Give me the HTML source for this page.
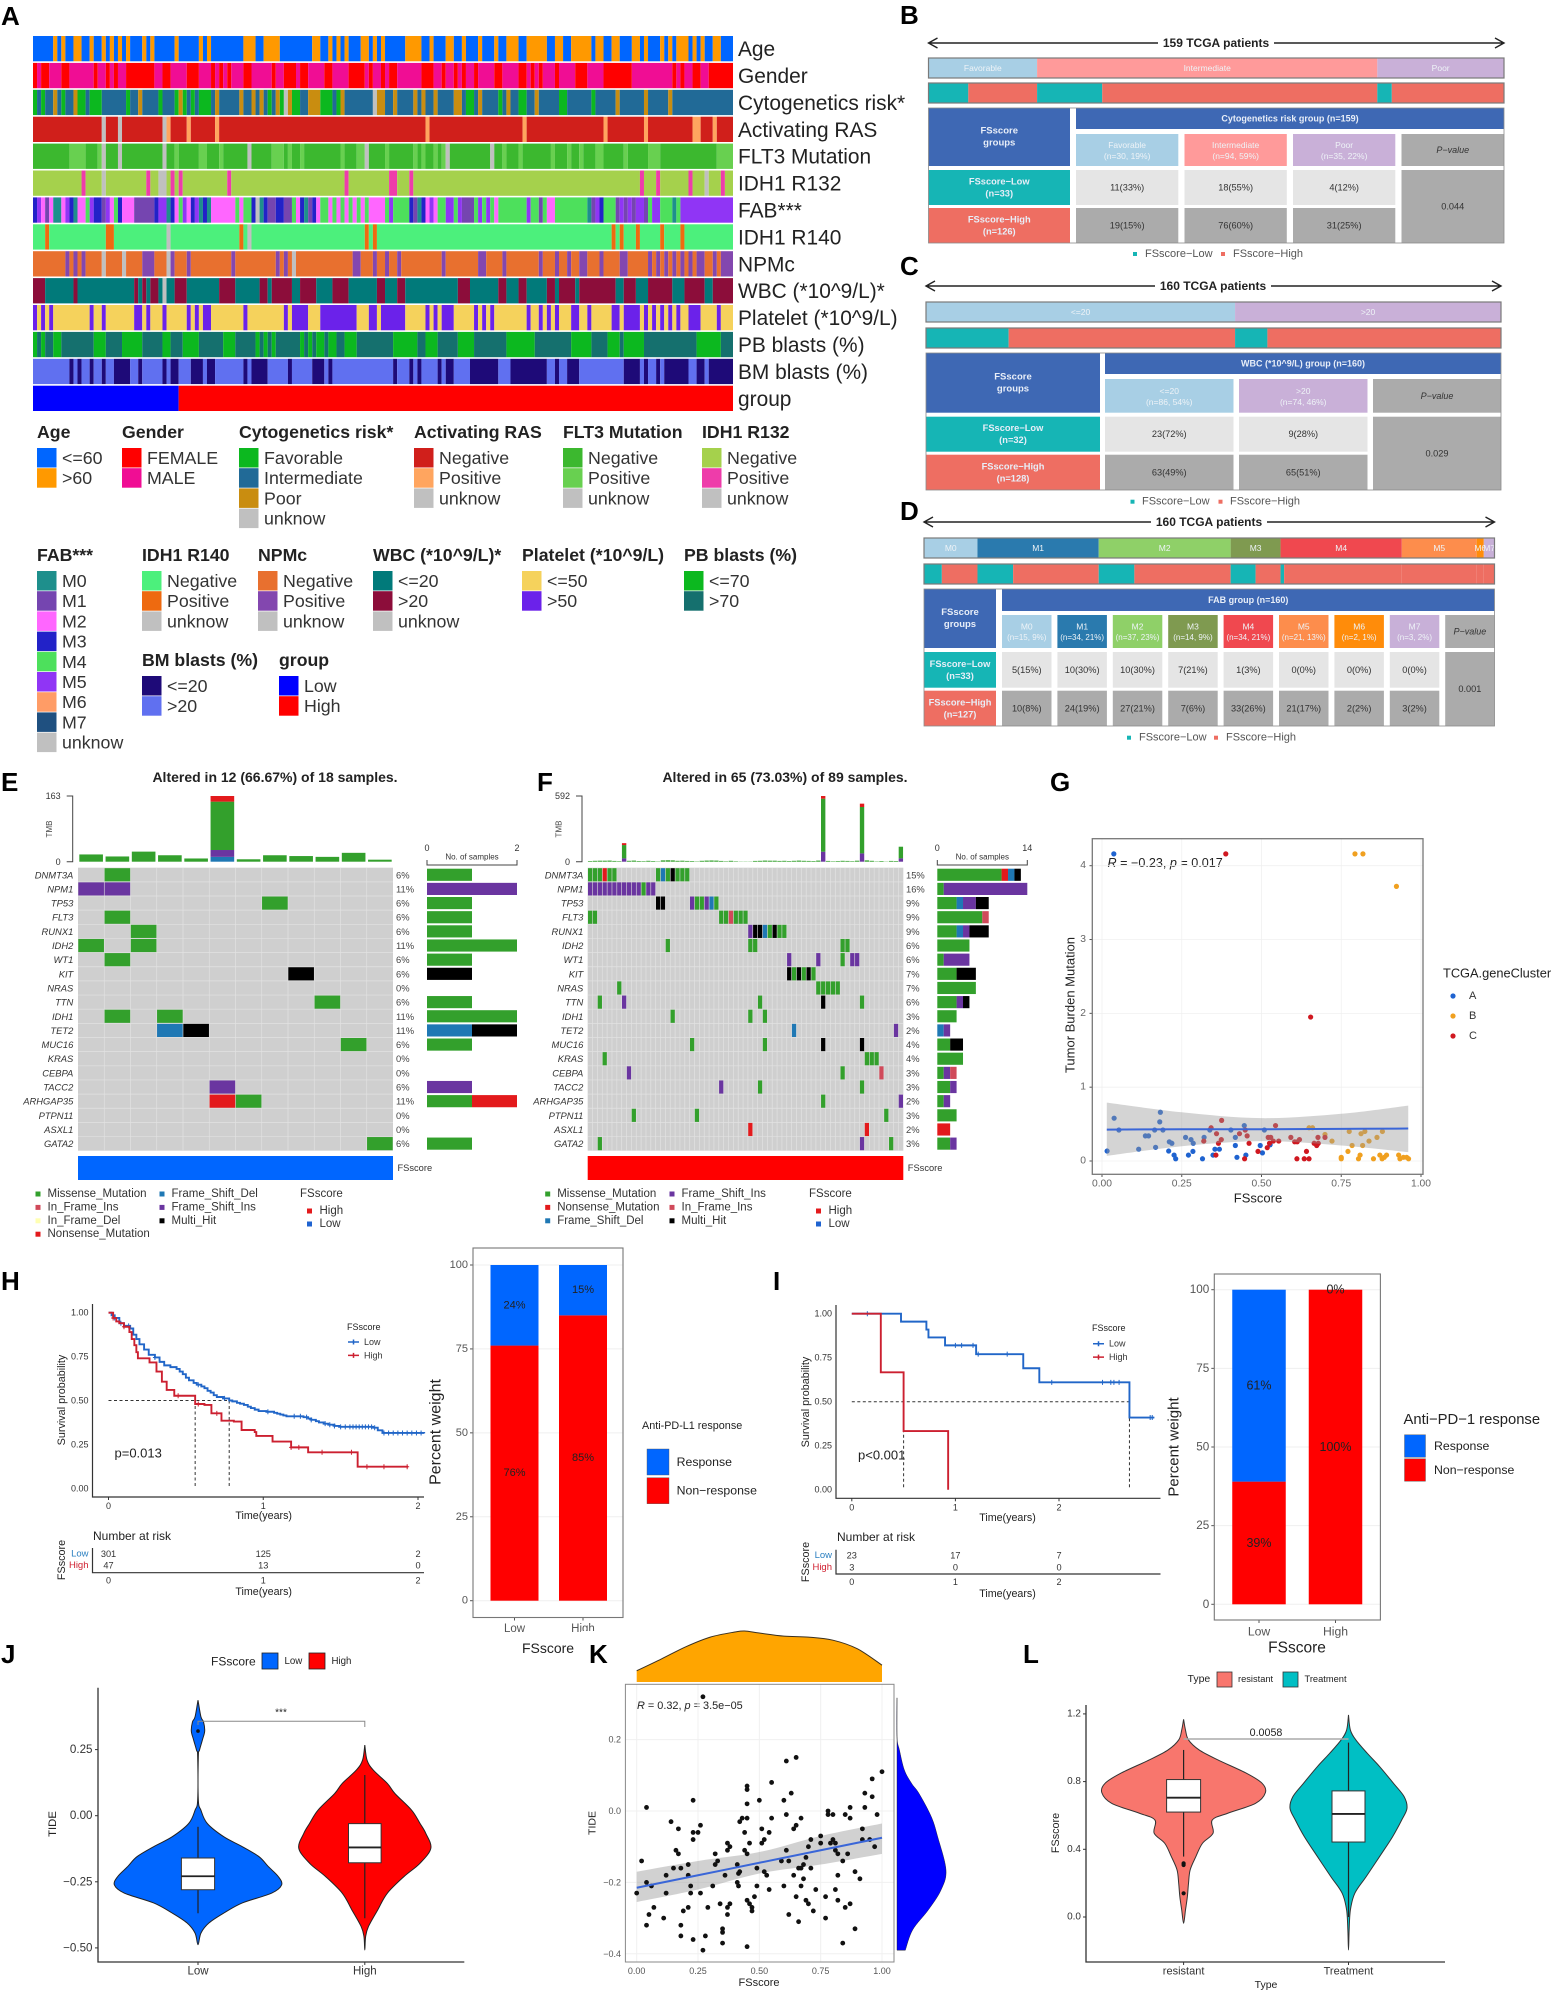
<!DOCTYPE html>
<html lang="en">
<head>
<meta charset="utf-8">
<title>FSscore multi-panel figure</title>
<style>
html,body{margin:0;padding:0;background:#fff}
svg{display:block;font-family:"Liberation Sans",sans-serif;fill:#222}
text{dominant-baseline:central}
.pl{dominant-baseline:alphabetic;font-weight:bold;font-size:26px;fill:#000}
.r{text-anchor:end}
.m{text-anchor:middle}
</style>
</head>
<body>
<svg id="figure" width="1557" height="1996" viewBox="0 0 1557 1996" xmlns="http://www.w3.org/2000/svg">
<rect width="1557" height="1996" fill="#fff"/>

<g>
<text class="pl" x="1" y="25">A</text>
<text class="pl" x="900" y="24">B</text>
<text class="pl" x="900" y="275">C</text>
<text class="pl" x="900" y="520">D</text>
<text class="pl" x="1" y="791">E</text>
<text class="pl" x="537" y="791">F</text>
<text class="pl" x="1050" y="791">G</text>
<text class="pl" x="1" y="1290">H</text>
<text class="pl" x="773" y="1290">I</text>
<text class="pl" x="1" y="1663">J</text>
<text class="pl" x="589" y="1663">K</text>
<text class="pl" x="1023" y="1663">L</text>
</g>

<g id="panel-a"></g>
<g id="panel-b"></g>
<g id="panel-c"></g>
<g id="panel-d"></g>

<g id="panel-e">
<text class="m" x="275" y="777" font-size="14" font-weight="bold">Altered in 12 (66.67%) of 18 samples.</text>
</g>
<g id="panel-f">
<text class="m" x="785" y="777" font-size="14" font-weight="bold">Altered in 65 (73.03%) of 89 samples.</text>
</g>

<g id="panel-g">
<text class="m" x="1258" y="1198" font-size="13" fill="#222">FSscore</text>
<text class="m" transform="translate(1070 1005) rotate(-90)" font-size="13">Tumor Burden Mutation</text>
<text x="1443" y="973" font-size="12.8">TCGA.geneCluster</text>
<text x="1107.5" y="863" font-size="12.6"><tspan font-style="italic">R</tspan> = −0.23, <tspan font-style="italic">p</tspan> = 0.017</text>
</g>

<g id="panel-h-km">
<text class="m" transform="translate(62 1400) rotate(-90)" font-size="10.8">Survival probability</text>
<text class="m" x="263.7" y="1516" font-size="10.7">Time(years)</text>
<text x="347" y="1327" font-size="9">FSscore</text>
<text x="114.5" y="1453" font-size="13">p=0.013</text>
<text x="93" y="1536" font-size="12">Number at risk</text>
<text class="m" transform="translate(62 1560) rotate(-90)" font-size="10.8">FSscore</text>
<text class="m" x="263.7" y="1592" font-size="10.7">Time(years)</text>
</g>
<g id="panel-h-bar">
<text class="m" transform="translate(436 1432) rotate(-90)" font-size="16">Percent weight</text>
<text class="m" x="548" y="1648" font-size="14">FSscore</text>
<text x="642" y="1426" font-size="10.8">Anti-PD-L1 response</text>
</g>
<rect x="581" y="1631" width="18" height="9" fill="#fff"/>

<g id="panel-i-km">
<text class="m" transform="translate(806 1402) rotate(-90)" font-size="10.8">Survival probability</text>
<text class="m" x="1007.5" y="1518" font-size="10.7">Time(years)</text>
<text x="1092" y="1328" font-size="9">FSscore</text>
<text x="858" y="1455" font-size="13">p&lt;0.001</text>
<text x="837" y="1537" font-size="12">Number at risk</text>
<text class="m" transform="translate(806 1562) rotate(-90)" font-size="10.8">FSscore</text>
<text class="m" x="1007.5" y="1594" font-size="10.7">Time(years)</text>
</g>
<g id="panel-i-bar">
<text class="m" transform="translate(1174 1447) rotate(-90)" font-size="15">Percent weight</text>
<text class="m" x="1297" y="1648" font-size="15.5">FSscore</text>
<text x="1403.5" y="1420" font-size="14.8">Anti−PD−1 response</text>
</g>

<g id="panel-j">
<text class="m" transform="translate(53 1824) rotate(-90)" font-size="11.3">TIDE</text>
<text x="211" y="1661.7" font-size="12">FSscore</text>
<rect x="262" y="1653" width="16" height="16" fill="#0066ff" stroke="#222" stroke-width=".8"/>
<text x="284.5" y="1661.7" font-size="9.7">Low</text>
<rect x="309" y="1653" width="16" height="16" fill="#ff0000" stroke="#222" stroke-width=".8"/>
<text x="331.5" y="1661.7" font-size="9.7">High</text>
<text class="m" x="281" y="1713" font-size="10">***</text>
</g>

<g id="panel-k">
<text class="m" transform="translate(592.7 1823) rotate(-90)" font-size="10.5">TIDE</text>
<text class="m" x="759" y="1983" font-size="11">FSscore</text>
<text x="637" y="1706" font-size="10.9"><tspan font-style="italic">R</tspan> = 0.32, <tspan font-style="italic">p</tspan> = 3.5e−05</text>
</g>

<g id="panel-l">
<text x="1187.5" y="1679" font-size="10.5">Type</text>
<rect x="1217" y="1672" width="15" height="15" fill="#f8766d" stroke="#333" stroke-width=".8"/>
<text x="1238" y="1679" font-size="9.3">resistant</text>
<rect x="1283" y="1672" width="15" height="15" fill="#00bfc4" stroke="#333" stroke-width=".8"/>
<text x="1304.5" y="1679" font-size="9.3">Treatment</text>
<text class="m" transform="translate(1056 1833) rotate(-90)" font-size="10.8">FSscore</text>
<text class="m" x="1266" y="1985" font-size="10.5">Type</text>
<text class="m" x="1266" y="1733" font-size="10.7">0.0058</text>
</g>
</svg>

<script>
/* ---------- Panel A data: sample indexes for each heatmap category ---------- */
const SAMPLES = 173;
const ageOver60 = [5,7,10,11,14,17,19,21,23,27,29,35,41,43,52,53,54,57,58,59,60,69,70,73,75,77,81,82,84,86,92,93,94,95,98,102,103,106,110,114,117,118,119,122,123,124,125,126,129,130,133,134,135,136,137,139,140,143,144,148,149,151,155,157,159,160,161,163,165,168,169];
const genderFemale = [0,2,3,7,8,15,18,20,23,24,25,26,27,28,29,32,33,38,39,40,44,46,48,52,53,59,62,63,64,66,67,72,73,78,79,80,81,83,86,88,89,96,97,98,101,104,106,109,114,115,120,121,123,125,129,134,135,136,141,142,143,144,145,146,147,158,160,163,164,167,168,169,170,171,172];
const cytoFavorable = [0,2,7,11,12,14,15,16,23,31,35,37,39,41,42,43,58,61,64,65,71,72,73,75,107,108,115,120,121,130,131,138];
const cytoPoor = [5,10,26,36,45,51,54,56,60,63,68,69,70,76,85,86,89,94,96,99,104,105,110,117,124,144,151,157];
const cytoUnknown = [62,84];
const rasPositive = [33,38,45,97,121,141,151,163,164,168];
const rasUnknown = [17,21,32];
const flt3Positive = [9,10,11,12,16,35,41,42,46,59,60,61,63,66,76,80,81,87,94,96,99,101,116,120,128,132,135,139,140,146,152,153,154,169,170,171,172];
const flt3Unknown = [17,21,32,53,82,102,113];
const r132Positive = [12,28,34,36,48,77,88,89,93,150,154,162,170];
const r132Unknown = [17,31,32,166];
const fabCodes = "35212"+"00"+"25"+"30"+"22"+"45"+"3315"+"24"+"3"+"222"+"11111"+"3"+"55"+"032"+"4523"+"50"+"3022"+"2222424"+"43u"+"0311331"+"142"+"30132"+"44"+"2424242"+"424"+"2222"+"45"+"4444"+"31032"+"5244"+"5545"+"1114"+"545"+"424"+"444444"+"5"+"44"+"1"+"42"+"2"+"444444"+"44"+"01"+"53"+"444"+"1515155"+"1"+"4"+"55"+"444"+"0"+"4"+"5555555";
const r140Positive = [3,18,19,51,82,84,143,145,149,155,160];
const r140Unknown = [33,53];
const npmPositive = [8,10,12,27,28,29,34,38,49,60,62,79,80,84,87,90,101,110,111,116,125,129,132,135,136,140,145,146,152,154,156,158,160,162,164,165,168,170,171,172];
const npmUnknown = [17,22,33,64];
const wbcHigh = [0,1,2,10,25,27,29,30,35,36,37,46,47,48,49,56,57,59,60,61,62,63,66,67,68,69,74,75,76,77,85,86,90,91,105,106,107,115,116,120,121,127,128,130,131,132,133,135,136,137,138,139,140,141,142,143,146,147,148,152,153,154,155,156,157,161,162,163,164,165,168,169,170,171,172];
const wbcUnknown = [32];
const plateletHigh = [0,2,4,14,17,25,26,28,32,38,40,42,43,52,62,64,65,66,67,71,72,73,74,75,76,77,78,79,83,84,86,87,88,89,90,91,97,99,101,102,103,109,111,113,122,125,127,129,133,134,137,143,144,146,147,148,149,151,153,155,157,159,162,163,164,169];
const pbLow = [0,2,5,6,15,16,17,22,23,24,25,26,32,33,37,38,39,40,47,48,49,55,57,59,66,68,70,71,73,74,77,78,79,89,90,91,92,93,94,97,98,99,105,106,107,108,117,118,119,120,121,122,123,133,134,135,136,137,142,143,144,146,147,148,149,150,164,165,166,167,168,169];
const bmLow = [9,11,14,17,20,21,22,23,26,32,34,35,39,40,41,43,44,52,54,55,56,57,63,69,70,71,73,89,93,95,100,102,103,108,109,110,111,112,113,114,118,119,120,121,122,123,124,125,126,129,132,133,134,146,147,148,149,151,154,156,157,158,159,160,161,164,165,167,168,169,170,171,172];
const groupLowCount = 36;

/* ---------- Panels B, C, D data ---------- */
const bCategories = ['Favorable','Intermediate','Poor'];
const bLow = [11,18,4];
const bHigh = [19,76,31];
const bLowPct = [33,55,12];
const bHighPct = [15,60,25];
const bSharePct = [19,59,22];
const cCategories = ['<=20','>20'];
const cLow = [23,9];
const cHigh = [63,65];
const cLowPct = [72,28];
const cHighPct = [49,51];
const cSharePct = [54,46];
const dCategories = ['M0','M1','M2','M3','M4','M5','M6','M7'];
const dLow = [5,10,10,7,1,0,0,0];
const dHigh = [10,24,27,7,33,21,2,3];
const dLowPct = [15,30,30,21,3,0,0,0];
const dHighPct = [8,19,21,6,26,17,2,2];
const dSharePct = [9,21,23,9,21,13,1,2];

/* ---------- Panels E, F data ---------- */
const geneNames = ['DNMT3A','NPM1','TP53','FLT3','RUNX1','IDH2','WT1','KIT','NRAS','TTN','IDH1','TET2','MUC16','KRAS','CEBPA','TACC2','ARHGAP35','PTPN11','ASXL1','GATA2'];
const ePercent = [6,11,6,6,6,11,6,6,0,6,11,11,6,0,0,6,11,0,0,6];
const eMutations = ['1M','0F 1F','7M','1M','2M','0M 2M','1M','8H','','9M','1M 3M','3D 4H','10M','','','5F','5N 6M','','','11M'];
const eTmbDel = [0,0,0,0,0,12,0,0,0,0,0,0];
const eTmbIns = [0,0,0,0,0,17,0,0,0,0,0,0];
const eTmbMissense = [18,13,25,16,8,120,6,16,14,12,22,5];
const eTmbNonsense = [0,0,0,0,0,14,0,0,0,0,0,0];
const fPercent = [15,16,9,9,9,6,6,7,7,6,3,2,4,4,3,3,2,3,2,3];
const fMutations = [
'0M 1M 2M 3N 4M 5M 14M 15D 16M 17H 18M 19M 20M',
'0F 1F 2F 3F 4F 5F 6F 7F 8F 9F 10F 11M 12F 13F',
'14H 15H 21F 22M 23M 24F 25D 26M',
'0M 1M 27M 28M 29I 30M 31M 32M',
'33F 34H 35H 36D 37M 38H 39M 40M',
'16M 33M 34M 52M 53M',
'41F 47F 52M 54F 55F',
'41H 42M 43H 44M 45H 46M',
'6M 47M 48M 49M 50M 51M',
'2M 7F 35M 48H 56M',
'17M 33M 36M',
'42D 63F',
'21M 36M 48H 56H',
'3M 57M 58M 59M',
'8F 52M 60I',
'27F 35M 56M',
'48M 64F',
'9M 22M 61M',
'33N 57N',
'2M 56F 62M'];
const fTmbIns = [0,0,0,0,0,0,0,30,0,0,0,0,0,0,0,0,0,0,0,0,0,0,0,0,0,0,0,0,0,0,0,0,0,0,0,0,0,0,0,0,0,0,0,0,0,0,0,0,90,0,0,0,0,0,0,0,75,0,0,0,0,0,0,0,30];
const fTmbMissense = [6,8,9,9,10,7,5,120,8,10,6,5,8,6,3,12,13,12,8,9,7,6,3,8,10,11,10,7,4,8,4,2,2,2,7,8,10,9,9,7,8,6,8,10,8,7,6,10,478,7,4,6,8,7,5,9,418,12,8,3,6,2,7,6,105];
const fTmbNonsense = [0,0,0,0,0,0,0,17,0,0,0,0,0,0,0,0,0,0,0,0,0,0,0,0,0,0,0,0,0,0,0,0,0,0,0,0,0,0,0,0,0,0,0,0,0,0,0,0,24,0,0,0,0,0,0,0,30,0,0,0,0,0,0,0,0];

/* ---------- Panel G data ---------- */
const gClusterA = [[.037,4.16],[.038,.58],[.053,.42],[.016,.135],[.115,.16],[.136,.34],[.146,.34],[.165,.42],[.168,.185],[.183,.66],[.181,.53],[.191,.42],[.209,.135],[.211,.26],[.219,.24],[.226,.08],[.231,.03],[.262,.32],[.279,.29],[.286,.24],[.271,.08],[.285,.13],[.315,.03],[.32,.32],[.338,.42],[.348,.08],[.354,.16],[.368,.16],[.404,.42],[.418,.32],[.418,.21],[.423,.05],[.446,.48],[.451,.08],[.496,.21],[.503,.11],[.509,.42],[.527,.22]];
const gClusterB = [[.793,4.16],[.818,4.16],[.923,3.72],[.649,.45],[.66,.45],[.699,.36],[.721,.27],[.75,.03],[.75,.05],[.771,.13],[.775,.4],[.784,.21],[.804,.03],[.809,.08],[.812,.37],[.817,.21],[.824,.4],[.837,.27],[.851,.03],[.862,.32],[.871,.08],[.878,.03],[.879,.4],[.885,.05],[.892,.08],[.93,.08],[.934,.03],[.945,.05],[.955,.05],[.961,.03]];
const gClusterC = [[.388,4.16],[.654,1.95],[.319,.27],[.342,.45],[.359,.37],[.357,.08],[.365,.24],[.375,.55],[.374,.29],[.431,.37],[.447,.03],[.449,.42],[.455,.34],[.461,.24],[.489,.13],[.518,.18],[.521,.32],[.529,.32],[.525,.24],[.537,.27],[.544,.48],[.554,.27],[.592,.32],[.604,.26],[.611,.03],[.612,.26],[.619,.29],[.634,.03],[.641,.13],[.649,.03],[.665,.24],[.673,.21],[.678,.24],[.677,.32],[.699,.32]];
const gClusterNames = ['A','B','C'];
const gFitX = [.015,.25,.5,.75,.96];
const gFitLine = [.425,.43,.43,.435,.44];
const gFitUpper = [.79,.66,.58,.64,.75];
const gFitLower = [.07,.2,.27,.21,.12];
const gXTicks = ['0.00','0.25','0.50','0.75','1.00'];
const gYTicks = ['0','1','2','3','4'];

/* ---------- Panels H, I data ---------- */
const hLowCurve = [[0,1],[.02,.985],[.04,.97],[.07,.94],[.1,.925],[.14,.91],[.16,.875],[.18,.85],[.2,.82],[.23,.79],[.26,.76],[.3,.745],[.33,.72],[.36,.7],[.4,.69],[.44,.68],[.46,.665],[.48,.65],[.5,.63],[.52,.615],[.55,.6],[.57,.59],[.6,.58],[.62,.57],[.64,.555],[.66,.545],[.68,.53],[.7,.52],[.74,.512],[.78,.5],[.8,.495],[.83,.487],[.85,.482],[.875,.475],[.9,.465],[.92,.457],[.945,.448],[.97,.44],[1.02,.436],[1.07,.43],[1.09,.425],[1.11,.42],[1.13,.415],[1.15,.41],[1.26,.405],[1.29,.397],[1.31,.39],[1.34,.382],[1.36,.375],[1.39,.368],[1.42,.362],[1.46,.355],[1.49,.35],[1.71,.345],[1.74,.33],[1.77,.315],[2.04,.313]];
const hHighCurve = [[0,1],[.03,.97],[.05,.95],[.07,.94],[.1,.92],[.135,.89],[.15,.85],[.167,.815],[.18,.775],[.19,.74],[.265,.717],[.31,.665],[.345,.607],[.376,.56],[.425,.527],[.56,.48],[.62,.475],[.665,.427],[.73,.385],[.81,.38],[.86,.332],[.945,.32],[.955,.298],[1.06,.266],[1.18,.233],[1.29,.205],[1.61,.123],[1.935,.123]];
const hLowCensor = [.04,.08,.13,.3,.58,.75,1.03,1.2,1.24,1.28,1.31,1.4,1.43,1.46,1.5,1.53,1.56,1.58,1.6,1.62,1.64,1.66,1.68,1.7,1.72,1.78,1.81,1.84,1.87,1.9,1.93,1.96,1.99,2.02];
const hHighCensor = [.03,.1,.45,.58,.7,1.18,1.23,1.38,1.57,1.67,1.78,1.93];
const hMedians = [.56,.78];
const hRiskLow = ['301','125','2'];
const hRiskHigh = ['47','13','0'];
const iLowCurve = [[0,1],[.475,.955],[.72,.91],[.74,.865],[.9,.82],[1.2,.77],[1.655,.69],[1.81,.61],[2.68,.41],[2.92,.41]];
const iHighCurve = [[0,1],[.28,.667],[.5,.333],[.93,0]];
const iLowCensor = [.15,1,1.06,1.17,1.22,1.5,1.93,2.42,2.5,2.53,2.58,2.88,2.9];
const iHighCensor = [];
const iMedians = [.5,2.68];
const iRiskLow = ['23','17','7'];
const iRiskHigh = ['3','0','0'];
const timeTicks = ['0','1','2'];
const survivalTicks = ['0.00','0.25','0.50','0.75','1.00'];
const percentTicks = ['0','25','50','75','100'];
const groupNames = ['Low','High'];
const hResponse = [24,15];
const hNonResponse = [76,85];
const iResponse = [61,0];
const iNonResponse = [39,100];

/* ---------- Panel J data ---------- */
const jTicks = ['0.25','0.00','−0.25','−0.50'];
const jTickValues = [.25,0,-.25,-.5];
const jLowGrid = [.437,.374,.355,.32,.287,.248,.223,.06,.021,-.029,-.08,-.117,-.155,-.192,-.23,-.262,-.293,-.33,-.368,-.406,-.444,-.488];
const jLowDensity = [0,.035,.066,.08,.053,.018,.004,.004,.035,.11,.31,.53,.73,.84,.96,1,.88,.53,.31,.13,.035,0];
const jHighGrid = [.267,.21,.173,.122,.084,.021,-.029,-.067,-.123,-.18,-.23,-.293,-.356,-.419,-.457,-.508];
const jHighDensity = [0,.027,.1,.27,.36,.56,.66,.73,.79,.66,.47,.27,.155,.044,.01,0];
const jLowBox = [-.369,-.28,-.229,-.16,-.042];
const jHighBox = [-.388,-.178,-.12,-.03,.154];
const jOutliers = [.32];

/* ---------- Panel K data ---------- */
const kPoints = [[.27,.32],[.61,.14],[.65,.15],[1,.11],[.96,.09],[.55,.08],[.45,.07],[.45,.06],[.93,.05],[.63,.05],[.96,.04],[.5,.03],[.23,.03],[.6,.03],[.45,.02],[.93,.01],[.04,.01],[.87,.01],[.78,0],[.78,-.01],[.8,-.01],[.85,-.01],[.87,-.02],[.98,-.01],[.61,-.01],[.55,-.02],[.67,-.02],[.45,-.02],[.43,-.02],[.42,-.03],[.14,-.03],[.26,-.04],[.17,-.05],[.92,-.05],[.65,-.04],[.64,-.05],[.23,-.06],[.25,-.06],[.51,-.05],[.54,-.06],[.44,-.06],[.75,-.07],[.23,-.08],[.71,-.08],[.95,-.08],[.92,-.08],[.8,-.08],[.79,-.09],[.75,-.09],[.81,-.09],[.52,-.08],[.51,-.09],[.46,-.09],[.37,-.09],[.38,-.1],[.37,-.11],[.7,-.1],[.97,-.1],[.16,-.11],[.17,-.12],[.44,-.11],[.45,-.12],[.61,-.11],[.81,-.11],[.82,-.12],[.86,-.12],[.32,-.12],[.69,-.13],[.02,-.14],[.33,-.14],[.32,-.15],[.21,-.15],[.59,-.14],[.62,-.14],[.84,-.14],[.41,-.15],[.15,-.16],[.18,-.16],[.67,-.16],[.68,-.15],[.71,-.16],[.66,-.16],[.49,-.16],[.12,-.18],[.21,-.18],[.36,-.18],[.42,-.17],[.415,-.175],[.52,-.17],[.53,-.18],[.64,-.18],[.68,-.19],[.82,-.18],[.89,-.17],[.91,-.19],[.04,-.2],[.06,-.21],[.22,-.21],[.31,-.21],[.41,-.2],[.415,-.21],[.49,-.21],[.6,-.21],[.67,-.21],[.73,-.22],[.81,-.22],[.54,-.22],[.22,-.23],[.26,-.23],[.12,-.23],[0,-.23],[.48,-.24],[.65,-.24],[.69,-.25],[.77,-.24],[.45,-.25],[.82,-.25],[.34,-.26],[.38,-.26],[.46,-.26],[.7,-.26],[.87,-.26],[.07,-.27],[.21,-.27],[.29,-.27],[.37,-.27],[.47,-.27],[.85,-.27],[.19,-.28],[.72,-.28],[.47,-.28],[.05,-.29],[.37,-.29],[.11,-.3],[.62,-.29],[.77,-.3],[.66,-.31],[.04,-.32],[.18,-.32],[.35,-.33],[.35,-.34],[.89,-.33],[.18,-.35],[.28,-.35],[.23,-.36],[.35,-.37],[.84,-.37],[.45,-.38],[.27,-.39]];
const kFitX = [0,.25,.5,.75,1];
const kFitLine = [-.215,-.18,-.145,-.11,-.075];
const kFitUpper = [-.17,-.14,-.115,-.07,-.035];
const kFitLower = [-.255,-.22,-.175,-.15,-.12];
const kXTicks = ['0.00','0.25','0.50','0.75','1.00'];
const kYTicks = ['0.2','0.0','−0.2','−0.4'];
const kYTickValues = [.2,0,-.2,-.4];
const kTopGrid = [0,.1,.2,.3,.4,.44,.5,.6,.7,.8,.9,1];
const kTopDensity = [.22,.45,.69,.88,.98,1,.96,.9,.88,.82,.65,.33];
const kRightGrid = [.317,.208,.171,.115,.077,.049,-.016,-.072,-.165,-.221,-.277,-.333,-.39];
const kRightDensity = [0,0,.05,.15,.3,.45,.7,.83,1,.9,.64,.32,.17];

/* ---------- Panel L data ---------- */
const lTicks = ['1.2','0.8','0.4','0.0'];
const lTickValues = [1.2,.8,.4,0];
const lTypes = ['resistant','Treatment'];
const lResistantGrid = [1.168,1.105,1.046,.987,.928,.849,.79,.735,.672,.613,.573,.495,.435,.357,.278,.199,.12,.041,-.037];
const lResistantDensity = [0,.023,.06,.19,.42,.77,.96,1,.88,.54,.35,.36,.23,.15,.08,.06,.046,.023,0];
const lTreatmentGrid = [1.194,1.105,1.046,.967,.889,.79,.711,.642,.573,.475,.357,.238,.14,.041,-.077,-.195];
const lTreatmentDensity = [0,.023,.09,.23,.38,.55,.68,.715,.65,.54,.38,.215,.077,.023,.008,0];
const lResistantBox = [.357,.62,.705,.812,.987];
const lTreatmentBox = [0,.443,.609,.745,1.03];
const lOutliers = [.317,.307,.14];

/* ---------- Helpers ---------- */
const NS = 'http://www.w3.org/2000/svg';
function make(tag, attrs, parent, text) {
  const node = document.createElementNS(NS, tag);
  for (const k in attrs) node.setAttribute(k, attrs[k]);
  if (text !== undefined) node.textContent = text;
  parent.appendChild(node);
  return node;
}
function byId(id) { return document.getElementById(id); }
function linear(d0, d1, r0, r1) { return v => r0 + (v - d0) * (r1 - r0) / (d1 - d0); }
function smoothPath(pts, closed) {
  let d = 'M' + pts[0][0].toFixed(2) + ' ' + pts[0][1].toFixed(2);
  for (let i = 0; i < pts.length - 1; i++) {
    const p0 = pts[i - 1] || pts[i], p1 = pts[i], p2 = pts[i + 1], p3 = pts[i + 2] || p2;
    d += 'C' + (p1[0] + (p2[0] - p0[0]) / 6).toFixed(2) + ' ' + (p1[1] + (p2[1] - p0[1]) / 6).toFixed(2) + ' ' +
      (p2[0] - (p3[0] - p1[0]) / 6).toFixed(2) + ' ' + (p2[1] - (p3[1] - p1[1]) / 6).toFixed(2) + ' ' +
      p2[0].toFixed(2) + ' ' + p2[1].toFixed(2);
  }
  return d + (closed ? 'Z' : '');
}

/* ---------- Panel A ---------- */
const trackLabels = ['Age','Gender','Cytogenetics risk*','Activating RAS','FLT3 Mutation','IDH1 R132','FAB***','IDH1 R140','NPMc','WBC (*10^9/L)*','Platelet (*10^9/L)','PB blasts (%)','BM blasts (%)','group'];
const UNK = '#c0c0c0';
const trackColors = [
  {'<=60':'#0066ff','>60':'#ff9900'},
  {'FEMALE':'#ff0000','MALE':'#f00d94'},
  {'Favorable':'#0cb81f','Intermediate':'#216a97','Poor':'#c98d10','unknow':UNK},
  {'Negative':'#d01f1b','Positive':'#ffa55f','unknow':UNK},
  {'Negative':'#3cb82f','Positive':'#68d050','unknow':UNK},
  {'Negative':'#a5d14c','Positive':'#ee3caa','unknow':UNK},
  {'M0':'#1e8f8c','M1':'#7545b0','M2':'#ff66ff','M3':'#2222c8','M4':'#4de05c','M5':'#9035f5','M6':'#ff9c66','M7':'#1f5080','unknow':UNK},
  {'Negative':'#4cf07c','Positive':'#ee6a10','unknow':UNK},
  {'Negative':'#e8702f','Positive':'#8347af','unknow':UNK},
  {'<=20':'#017a7a','>20':'#8c0d3a','unknow':UNK},
  {'<=50':'#f5d25c','>50':'#6b22ea'},
  {'<=70':'#0cb81f','>70':'#15706e'},
  {'<=20':'#1e0a78','>20':'#6070f0'},
  {'Low':'#0000ff','High':'#ff0000'}
];
const legendPositions = [[37,432],[122,432],[239,432],[414,432],[563,432],[702,432],[37,555],[142,555],[258,555],[373,555],[522,555],[684,555],[142,660],[279,660]];
function track(base, overrides) {
  const v = new Array(SAMPLES).fill(base);
  overrides.forEach(o => o[1].forEach(i => { if (i < SAMPLES) v[i] = o[0]; }));
  return v;
}
const fabValues = Array.from({length: SAMPLES}, (_, i) => {
  const c = fabCodes[i] || '5';
  return c === 'u' ? 'unknow' : 'M' + c;
});
const groupValues = Array.from({length: SAMPLES}, (_, i) => i < groupLowCount ? 'Low' : 'High');
const tracks = [
  track('<=60', [['>60', ageOver60]]),
  track('MALE', [['FEMALE', genderFemale]]),
  track('Intermediate', [['Favorable', cytoFavorable], ['Poor', cytoPoor], ['unknow', cytoUnknown]]),
  track('Negative', [['Positive', rasPositive], ['unknow', rasUnknown]]),
  track('Negative', [['Positive', flt3Positive], ['unknow', flt3Unknown]]),
  track('Negative', [['Positive', r132Positive], ['unknow', r132Unknown]]),
  fabValues,
  track('Negative', [['Positive', r140Positive], ['unknow', r140Unknown]]),
  track('Negative', [['Positive', npmPositive], ['unknow', npmUnknown]]),
  track('<=20', [['>20', wbcHigh], ['unknow', wbcUnknown]]),
  track('<=50', [['>50', plateletHigh]]),
  track('>70', [['<=70', pbLow]]),
  track('>20', [['<=20', bmLow]]),
  groupValues
];
(function drawHeatmap() {
  const g = byId('panel-a');
  const hx = linear(0, SAMPLES, 33, 733);
  const hy = i => 36 + i * 26.9;
  tracks.forEach((vals, r) => {
    let start = 0;
    for (let i = 1; i <= vals.length; i++) {
      if (i === vals.length || vals[i] !== vals[start]) {
        const cell = make('rect', {x: hx(start), y: hy(r), width: hx(i) - hx(start), height: 25.3, fill: trackColors[r][vals[start]]}, g);
        
        
        start = i;
      }
    }
    const lab = make('text', {x: 738, y: hy(r) + 13.6, 'font-size': 20.9}, g, trackLabels[r]);
    
    
    const pos = legendPositions[r];
    const title = make('text', {x: pos[0], y: pos[1], 'font-size': 17.7, 'font-weight': 'bold'}, g, trackLabels[r]);
    
    
    Object.keys(trackColors[r]).forEach((cat, k) => {
      const sw = make('rect', {x: pos[0], y: pos[1] + 16 + k * 20.2, width: 19.5, height: 19.5, fill: trackColors[r][cat]}, g);
      
      
      const t = make('text', {x: pos[0] + 25, y: pos[1] + 26 + k * 20.2, 'font-size': 17.8, fill: '#333'}, g, cat);
      
      
    });
  });
})();

/* ---------- Panels B, C, D ---------- */
const TEAL = '#16b5b5', SALMON = '#ee6e62', BLUEHEAD = '#3e68b4', LIGHT = '#e5e5e5', GREY = '#ababab';
function drawClinical(g, L, title, heading, cats, low, high, lowPct, highPct, sharePct, colors, pValue, nLow, nHigh) {
  const total = low.reduce((a, b) => a + b, 0) + high.reduce((a, b) => a + b, 0);
  const px = linear(0, total, L.x0, L.x1);
  const line = make('path', {d: 'M' + L.x0 + ' ' + L.arrowY + 'H' + L.x1 + 'M' + (L.x0 + 9) + ' ' + (L.arrowY - 5) + 'L' + L.x0 + ' ' + L.arrowY + 'L' + (L.x0 + 9) + ' ' + (L.arrowY + 5) + 'M' + (L.x1 - 9) + ' ' + (L.arrowY - 5) + 'L' + L.x1 + ' ' + L.arrowY + 'L' + (L.x1 - 9) + ' ' + (L.arrowY + 5), fill: 'none', stroke: '#222', 'stroke-width': 1.4}, g);
  
  
  const mask = make('rect', {x: L.cx - 58, y: L.arrowY - 8, width: 116, height: 16, fill: '#fff'}, g);
  
  
  const tt = make('text', {x: L.cx, y: L.arrowY, 'font-size': 12, 'font-weight': 'bold', 'text-anchor': 'middle'}, g, title);
  
  
  let acc = 0, acc2 = 0;
  cats.forEach((c, i) => {
    const n = low[i] + high[i];
    const seg = make('rect', {x: px(acc), y: L.bar1, width: px(acc + n) - px(acc), height: 20, fill: colors[i]}, g);
    
    
    const st = make('text', {x: (px(acc) + px(acc + n)) / 2, y: L.bar1 + 10, 'font-size': 8.5, fill: '#eef3f7', 'text-anchor': 'middle'}, g, c);
    
    
    acc += n;
    const sl = make('rect', {x: px(acc2), y: L.bar2, width: px(acc2 + low[i]) - px(acc2), height: 20, fill: TEAL}, g);
    
    
    acc2 += low[i];
    const sh = make('rect', {x: px(acc2), y: L.bar2, width: px(acc2 + high[i]) - px(acc2), height: 20, fill: SALMON}, g);
    
    
    acc2 += high[i];
  });
  [L.bar1, L.bar2].forEach(y => {
    const fr = make('rect', {x: L.x0, y: y, width: L.x1 - L.x0, height: 20, fill: 'none', stroke: '#7a7a7a', 'stroke-width': 1.2}, g);
    
    
  });
  const left = make('rect', {x: L.x0, y: L.head, width: L.leftR - L.x0, height: L.colB - L.head, fill: BLUEHEAD}, g);
  
  
  ['FSscore', 'groups'].forEach((w, i) => {
    const lt = make('text', {x: (L.x0 + L.leftR) / 2, y: (L.head + L.colB) / 2 - 6 + i * 12, 'font-size': 9.5, 'font-weight': 'bold', fill: '#e8eef8', 'text-anchor': 'middle'}, g, w);
    
    
  });
  const hd = make('rect', {x: L.colX, y: L.head, width: L.x1 - L.colX, height: L.headB - L.head, fill: BLUEHEAD}, g);
  
  
  const hdT = make('text', {x: (L.colX + L.x1) / 2, y: (L.head + L.headB) / 2, 'font-size': 9, 'font-weight': 'bold', fill: '#e8eef8', 'text-anchor': 'middle'}, g, heading);
  
  
  [[L.low, TEAL, 'FSscore−Low', nLow], [L.high, SALMON, 'FSscore−High', nHigh]].forEach(r => {
    const rc = make('rect', {x: L.x0, y: r[0][0], width: L.leftR - L.x0, height: r[0][1] - r[0][0], fill: r[1]}, g);
    
    
    const mid = (r[0][0] + r[0][1]) / 2;
    const a = make('text', {x: (L.x0 + L.leftR) / 2, y: mid - 6, 'font-size': 9.3, 'font-weight': 'bold', fill: '#e8eef8', 'text-anchor': 'middle'}, g, r[2]);
    
    
    const b = make('text', {x: (L.x0 + L.leftR) / 2, y: mid + 6, 'font-size': 9.3, 'font-weight': 'bold', fill: '#e8eef8', 'text-anchor': 'middle'}, g, r[3]);
    
    
  });
  cats.forEach((c, i) => {
    const x = L.colX + i * L.pitch, mid = x + L.colW / 2;
    const head = make('rect', {x: x, y: L.colT, width: L.colW, height: L.colB - L.colT, fill: colors[i]}, g);
    
    
    const h1 = make('text', {x: mid, y: (L.colT + L.colB) / 2 - 5, 'font-size': 8.5, fill: '#eef3f7', 'text-anchor': 'middle'}, g, c);
    
    
    const h2 = make('text', {x: mid, y: (L.colT + L.colB) / 2 + 6, 'font-size': L.subSize, fill: '#eef3f7', 'text-anchor': 'middle'}, g, '(n=' + (low[i] + high[i]) + ', ' + sharePct[i] + '%)');
    
    
    const c1 = make('rect', {x: x, y: L.low[0], width: L.colW, height: L.low[1] - L.low[0], fill: LIGHT}, g);
    
    
    const t1 = make('text', {x: mid, y: (L.low[0] + L.low[1]) / 2, 'font-size': 9.2, fill: '#333', 'text-anchor': 'middle'}, g, low[i] + '(' + lowPct[i] + '%)');
    
    
    const c2 = make('rect', {x: x, y: L.high[0], width: L.colW, height: L.high[1] - L.high[0], fill: GREY}, g);
    
    
    const t2 = make('text', {x: mid, y: (L.high[0] + L.high[1]) / 2, 'font-size': 9.2, fill: '#333', 'text-anchor': 'middle'}, g, high[i] + '(' + highPct[i] + '%)');
    
    
  });
  const pX = L.colX + cats.length * L.pitch;
  const ph = make('rect', {x: pX, y: L.colT, width: L.x1 - pX, height: L.colB - L.colT, fill: GREY}, g);
  
  
  const phT = make('text', {x: (pX + L.x1) / 2, y: (L.colT + L.colB) / 2, 'font-size': 9, 'font-style': 'italic', fill: '#333', 'text-anchor': 'middle'}, g, 'P−value');
  
  
  const pc = make('rect', {x: pX, y: L.low[0], width: L.x1 - pX, height: L.high[1] - L.low[0], fill: GREY}, g);
  
  
  const pcT = make('text', {x: (pX + L.x1) / 2, y: (L.low[0] + L.high[1]) / 2, 'font-size': 9.2, fill: '#333', 'text-anchor': 'middle'}, g, pValue);
  
  
  const fr2 = make('rect', {x: L.x0, y: L.head, width: L.x1 - L.x0, height: L.high[1] - L.head, fill: 'none', stroke: '#8a8a8a', 'stroke-width': .8}, g);
  
  
  [[L.lx[0], L.lx[1], TEAL, 'FSscore−Low'], [L.lx[2], L.lx[3], SALMON, 'FSscore−High']].forEach(e => {
    const sq = make('rect', {x: e[0] - 2, y: L.ly - 2, width: 4, height: 4, fill: e[2]}, g);
    
    
    const lb = make('text', {x: e[1], y: L.ly, 'font-size': 11, fill: '#555'}, g, e[3]);
    
    
  });
}
drawClinical(byId('panel-b'), {x0:928.5,x1:1504,cx:1216,arrowY:43,bar1:58,bar2:83,head:108,headB:129,colT:134,colB:166,leftR:1070,colX:1076,colW:102.3,pitch:108.5,low:[170,205],high:[208,243],ly:254,lx:[1135,1145,1223,1233],subSize:8.5},
  '159 TCGA patients','Cytogenetics risk group (n=159)',bCategories,bLow,bHigh,bLowPct,bHighPct,bSharePct,['#a8cfe5','#ff9a9a','#c9b0d8'],'0.044','(n=33)','(n=126)');
drawClinical(byId('panel-c'), {x0:926,x1:1501,cx:1213,arrowY:286,bar1:302,bar2:328,head:353,headB:374,colT:379,colB:412.7,leftR:1100,colX:1105,colW:128.5,pitch:134,low:[416.7,451.7],high:[454.7,490],ly:501.7,lx:[1132.5,1142,1220.5,1230],subSize:8.5},
  '160 TCGA patients','WBC (*10^9/L) group (n=160)',cCategories,cLow,cHigh,cLowPct,cHighPct,cSharePct,['#a8cfe5','#c9b0d8'],'0.029','(n=32)','(n=128)');
drawClinical(byId('panel-d'), {x0:924,x1:1494.5,cx:1209,arrowY:522,bar1:538,bar2:564,head:589,headB:611,colT:615,colB:648,leftR:996,colX:1002,colW:49.5,pitch:55.4,low:[652,687.7],high:[690.7,726],ly:737.7,lx:[1129,1139,1216,1226],subSize:8},
  '160 TCGA patients','FAB group (n=160)',dCategories,dLow,dHigh,dLowPct,dHighPct,dSharePct,['#a8cfe5','#2a7aae','#8fd068','#7f9a50','#f0484f','#fd8d4c','#ff8c0a','#c8b0d8'],'0.001','(n=33)','(n=127)');

/* ---------- Panels E, F ---------- */
const MUT = {M:'#33a02c', N:'#e31a1c', D:'#1f78b4', F:'#6a35a0', I:'#d04a5a', H:'#000000'};
const MUT_ORDER = ['M','N','D','F','I','H'];
const ROW_PITCH = 14.15, GRID_TOP = 867.7;
function drawOnco(g, L, mutations, percents, tmbLayers, tmbMax, barMax, fsColor, legend1, legend2) {
  const n = tmbLayers[0].values.length;
  const cw = (L.x1 - L.x0) / n;
  const bg = make('rect', {x: L.x0, y: GRID_TOP, width: L.x1 - L.x0, height: ROW_PITCH * 20, fill: '#cfcfcf'}, g);
  
  
  let grid = '';
  for (let i = 1; i < n; i++) grid += 'M' + (L.x0 + i * cw) + ' ' + GRID_TOP + 'V' + (GRID_TOP + ROW_PITCH * 20);
  for (let i = 1; i < 20; i++) grid += 'M' + L.x0 + ' ' + (GRID_TOP + i * ROW_PITCH) + 'H' + L.x1;
  const gridEl = make('path', {d: grid, stroke: '#e2e2e2', 'stroke-width': .7, fill: 'none'}, g);
  
  
  const bx = linear(0, barMax, L.barX0, L.barX1);
  geneNames.forEach((gene, r) => {
    const y = GRID_TOP + r * ROW_PITCH;
    const lab = make('text', {x: L.geneX, y: y + ROW_PITCH / 2, 'font-size': 9.4, 'font-style': 'italic', fill: '#333', 'text-anchor': 'end'}, g, gene);
    
    
    const pct = make('text', {x: L.pctX, y: y + ROW_PITCH / 2, 'font-size': 9.4, fill: '#444'}, g, percents[r] + '%');
    
    
    const counts = {};
    mutations[r].split(' ').filter(Boolean).forEach(tok => {
      const col = parseInt(tok, 10), type = tok.slice(-1);
      counts[type] = (counts[type] || 0) + 1;
      const cell = make('rect', {x: L.x0 + col * cw + .3, y: y + .5, width: cw - .6, height: ROW_PITCH - 1, fill: MUT[type]}, g);
      
      
    });
    let acc = 0;
    MUT_ORDER.forEach(t => {
      if (!counts[t]) return;
      const seg = make('rect', {x: bx(acc), y: y + 1, width: bx(acc + counts[t]) - bx(acc), height: ROW_PITCH - 2, fill: MUT[t]}, g);
      
      
      acc += counts[t];
    });
  });
  const ty = linear(0, tmbMax, 861.7, 796);
  for (let i = 0; i < n; i++) {
    let acc = 0;
    tmbLayers.forEach(layer => {
      const v = layer.values[i];
      if (!v) return;
      const seg = make('rect', {x: L.x0 + i * cw + cw * .05, y: ty(acc + v), width: cw * .9, height: ty(acc) - ty(acc + v), fill: layer.color}, g);
      
      
      acc += v;
    });
  }
  const axis = make('path', {d: 'M' + (L.tmbX - 6) + ' 796H' + L.tmbX + 'V861.7H' + (L.tmbX - 6), fill: 'none', stroke: '#444', 'stroke-width': 1}, g);
  
  
  const top = make('text', {x: L.tmbX - 12, y: 796, 'font-size': 9, fill: '#333', 'text-anchor': 'end'}, g, String(tmbMax));
  
  
  const zero = make('text', {x: L.tmbX - 12, y: 862, 'font-size': 9, fill: '#333', 'text-anchor': 'end'}, g, '0');
  
  
  const tm = make('text', {transform: 'translate(' + (L.tmbX - 23) + ' 829) rotate(-90)', 'font-size': 8, fill: '#444', 'text-anchor': 'middle'}, g, 'TMB');
  
  
  const br = make('path', {d: 'M' + L.barX0 + ' 860V865H' + L.barX1 + 'V860', fill: 'none', stroke: '#444', 'stroke-width': 1}, g);
  
  
  const b0 = make('text', {x: L.barX0, y: 848, 'font-size': 9, fill: '#333', 'text-anchor': 'middle'}, g, '0');
  
  
  const b1 = make('text', {x: L.barX1, y: 848, 'font-size': 9, fill: '#333', 'text-anchor': 'middle'}, g, String(barMax));
  
  
  const bt = make('text', {x: (L.barX0 + L.barX1) / 2, y: 857, 'font-size': 8, fill: '#333', 'text-anchor': 'middle'}, g, 'No. of samples');
  
  
  const fs = make('rect', {x: L.x0, y: 1156, width: L.x1 - L.x0, height: 24, fill: fsColor}, g);
  
  
  const fst = make('text', {x: L.x1 + 4.5, y: 1168, 'font-size': 9.3, fill: '#333'}, g, 'FSscore');
  
  
  [[legend1, L.leg1], [legend2, L.leg2]].forEach(col => {
    col[0].forEach((e, i) => {
      const y = 1194 + i * 13.4;
      const mk = make('rect', {x: col[1] - 2.5, y: y - 2.5, width: 5, height: 5, fill: MUT[e[1]] || '#ffffb3'}, g);
      
      
      const tx = make('text', {x: col[1] + 9.5, y: y, 'font-size': 11.5, fill: '#333'}, g, e[0]);
      
      
    });
  });
  const ft = make('text', {x: L.fsLeg, y: 1194, 'font-size': 11.5, fill: '#333'}, g, 'FSscore');
  
  
  [['High', '#e31a1c', 1211], ['Low', '#1f63d0', 1224]].forEach(e => {
    const mk = make('rect', {x: L.fsLeg + 7, y: e[2] - 2.5, width: 5, height: 5, fill: e[1]}, g);
    
    
    const tx = make('text', {x: L.fsLeg + 19.5, y: e[2], 'font-size': 11.5, fill: '#333'}, g, e[0]);
    
    
  });
}
const eLayers = [
  {values: eTmbDel, color: MUT.D},
  {values: eTmbIns, color: MUT.F},
  {values: eTmbMissense, color: MUT.M},
  {values: eTmbNonsense, color: MUT.N}
];
const fLayers = [
  {values: fTmbIns, color: MUT.F},
  {values: fTmbMissense, color: MUT.M},
  {values: fTmbNonsense, color: MUT.N}
];
drawOnco(byId('panel-e'), {x0:78,x1:393,geneX:73.3,pctX:396,tmbX:72.7,barX0:427,barX1:517,leg1:38,leg2:162,fsLeg:300},
  eMutations, ePercent, eLayers, 163, 2, '#0066ff',
  [['Missense_Mutation','M'],['In_Frame_Ins','I'],['In_Frame_Del','Y'],['Nonsense_Mutation','N']],
  [['Frame_Shift_Del','D'],['Frame_Shift_Ins','F'],['Multi_Hit','H']]);
drawOnco(byId('panel-f'), {x0:587.7,x1:903.3,geneX:583.3,pctX:906,tmbX:582,barX0:937.3,barX1:1027.3,leg1:547.7,leg2:672,fsLeg:809},
  fMutations, fPercent, fLayers, 592, 14, '#ff0000',
  [['Missense_Mutation','M'],['Nonsense_Mutation','N'],['Frame_Shift_Del','D']],
  [['Frame_Shift_Ins','F'],['In_Frame_Ins','I'],['Multi_Hit','H']]);

/* ---------- Panel G ---------- */
(function drawG() {
  const g = byId('panel-g');
  const x = linear(0, 1, 1102, 1421), y = linear(0, 4, 1161, 865.7);
  const clusterColors = ['#1f63d0', '#f0a020', '#d01820'];
  gXTicks.forEach(t => {
    const v = parseFloat(t);
    const gl = make('line', {x1: x(v), x2: x(v), y1: 838.7, y2: 1174.3, stroke: '#f0f0f0', 'stroke-width': .8}, g);
    
    
    const lab = make('text', {x: x(v), y: 1184, 'font-size': 10.3, fill: '#666', 'text-anchor': 'middle'}, g, t);
    
    
    const tick = make('line', {x1: x(v), x2: x(v), y1: 1174.3, y2: 1177, stroke: '#555'}, g);
    
    
  });
  gYTicks.forEach(t => {
    const v = parseFloat(t);
    const gl = make('line', {x1: 1092.3, x2: 1423, y1: y(v), y2: y(v), stroke: '#f0f0f0', 'stroke-width': .8}, g);
    
    
    const lab = make('text', {x: 1086, y: y(v), 'font-size': 10.3, fill: '#666', 'text-anchor': 'end'}, g, t);
    
    
    const tick = make('line', {x1: 1089.5, x2: 1092.3, y1: y(v), y2: y(v), stroke: '#555'}, g);
    
    
  });
  [gClusterA, gClusterB, gClusterC].forEach((pts, c) => {
    pts.forEach(p => {
      const dot = make('circle', {cx: x(p[0]), cy: y(p[1]), r: 2.6, fill: clusterColors[c]}, g);
      
      
    });
    const ly = 996 + c * 20;
    const ld = make('circle', {cx: 1453, cy: ly, r: 2.6, fill: clusterColors[c]}, g);
    
    
    const lt = make('text', {x: 1469, y: ly, 'font-size': 11, fill: '#333'}, g, gClusterNames[c]);
    
    
  });
  const upper = gFitX.map((v, i) => [x(v), y(gFitUpper[i])]);
  const lower = gFitX.map((v, i) => [x(v), y(gFitLower[i])]).reverse();
  const rb = make('path', {d: smoothPath(upper) + 'L' + smoothPath(lower).slice(1) + 'Z', fill: '#999', 'fill-opacity': .42}, g);
  
  
  const fit = make('path', {d: smoothPath(gFitX.map((v, i) => [x(v), y(gFitLine[i])])), fill: 'none', stroke: '#3a66d8', 'stroke-width': 2}, g);
  
  
  const box = make('rect', {x: 1092.3, y: 838.7, width: 330.7, height: 335.6, fill: 'none', stroke: '#777', 'stroke-width': 1.3}, g);
  
  
})();

/* ---------- Panels H, I survival ---------- */
function drawKM(g, L, lowCurve, highCurve, lowCensor, highCensor, medians, riskLow, riskHigh) {
  const x = linear(0, 2, L.t0, L.t2), y = linear(0, 1, L.p0, L.p1);
  const BLUE = '#2166c8', RED = '#cc2030';
  const ax = make('path', {d: 'M' + L.ax + ' ' + L.axTop + 'V' + L.axB + 'H' + L.axR, fill: 'none', stroke: '#333', 'stroke-width': 1.2}, g);
  
  
  survivalTicks.forEach(t => {
    const v = parseFloat(t);
    const lab = make('text', {x: L.ax - 4, y: y(v), 'font-size': 9, fill: '#333', 'text-anchor': 'end'}, g, t);
    
    
  });
  timeTicks.forEach((t, i) => {
    const v = parseFloat(t);
    const tk = make('line', {x1: x(v), x2: x(v), y1: L.axB, y2: L.axB + 3, stroke: '#333'}, g);
    
    
    const lab = make('text', {x: x(v), y: L.axB + 9, 'font-size': 9, fill: '#333', 'text-anchor': 'middle'}, g, t);
    
    
    const l1 = make('text', {x: x(v), y: L.riskLow, 'font-size': 9.2, fill: '#333', 'text-anchor': 'middle'}, g, riskLow[i]);
    
    
    const l2 = make('text', {x: x(v), y: L.riskHigh, 'font-size': 9.2, fill: '#333', 'text-anchor': 'middle'}, g, riskHigh[i]);
    
    
    const tr = make('text', {x: x(v), y: L.riskAx + 8, 'font-size': 9, fill: '#333', 'text-anchor': 'middle'}, g, t);
    
    
  });
  const ra = make('path', {d: 'M' + L.ax + ' ' + (L.riskLow - 6) + 'V' + L.riskAx + 'H' + L.axR, fill: 'none', stroke: '#333', 'stroke-width': 1.2}, g);
  
  
  const rl = make('text', {x: L.ax - 4, y: L.riskLow, 'font-size': 9.5, fill: '#2a7fc0', 'text-anchor': 'end'}, g, 'Low');
  
  
  const rh = make('text', {x: L.ax - 4, y: L.riskHigh, 'font-size': 9.5, fill: '#d02030', 'text-anchor': 'end'}, g, 'High');
  
  
  const dash = make('path', {d: 'M' + x(0) + ' ' + y(.5) + 'H' + x(medians[1]) + medians.map(m => 'M' + x(m) + ' ' + y(.5) + 'V' + y(0)).join(''), fill: 'none', stroke: '#333', 'stroke-width': 1, 'stroke-dasharray': '3 2.5'}, g);
  
  
  function stepAt(curve, t) { let p = 1; curve.forEach(c => { if (c[0] <= t) p = c[1]; }); return p; }
  [[lowCurve, lowCensor, BLUE, 'low'], [highCurve, highCensor, RED, 'high']].forEach(s => {
    let d = 'M' + x(s[0][0][0]) + ' ' + y(s[0][0][1]);
    s[0].forEach(c => { d += 'H' + x(c[0]) + 'V' + y(c[1]); });
    const cur = make('path', {d: d, fill: 'none', stroke: s[2], 'stroke-width': 1.9}, g);
    
    
    s[1].forEach(t => {
      const cx = x(t), cy = y(stepAt(s[0], t));
      const mk = make('path', {d: 'M' + (cx - 2) + ' ' + cy + 'H' + (cx + 2) + 'M' + cx + ' ' + (cy - 2.5) + 'V' + (cy + 2.5), stroke: s[2], 'stroke-width': 1, fill: 'none'}, g);
      
      
    });
  });
  [['Low', BLUE, L.legY], ['High', RED, L.legY + 13.4]].forEach(e => {
    const ln = make('path', {d: 'M' + L.legX + ' ' + e[2] + 'h11M' + (L.legX + 5.5) + ' ' + (e[2] - 2.5) + 'v5', stroke: e[1], 'stroke-width': 1.5, fill: 'none'}, g);
    
    
    const tx = make('text', {x: L.legX + 16, y: e[2], 'font-size': 9, fill: '#333'}, g, e[0]);
    
    
  });
}
drawKM(byId('panel-h-km'), {t0:108.5,t2:418,p0:1488.3,p1:1312.7,ax:92.5,axTop:1304,axB:1497,axR:424,riskLow:1554,riskHigh:1565.7,riskAx:1572.7,legX:348,legY:1342},
  hLowCurve, hHighCurve, hLowCensor, hHighCensor, hMedians, hRiskLow, hRiskHigh);
drawKM(byId('panel-i-km'), {t0:851.8,t2:1059,p0:1489.7,p1:1313.7,ax:836,axTop:1305,axB:1498.3,axR:1160.5,riskLow:1555.7,riskHigh:1567.7,riskAx:1574,legX:1093,legY:1343.7},
  iLowCurve, iHighCurve, iLowCensor, iHighCensor, iMedians, iRiskLow, iRiskHigh);

/* ---------- Panels H, I stacked bars ---------- */
function drawBars(g, L, response, nonResponse) {
  const y = linear(0, 100, L.y0, L.y100);
  const bw = L.barW;
  percentTicks.forEach(t => {
    const v = parseFloat(t);
    const gl = make('line', {x1: L.box[0], x2: L.box[1], y1: y(v), y2: y(v), stroke: '#efefef'}, g);
    
    
    const tk = make('line', {x1: L.box[0] - 3, x2: L.box[0], y1: y(v), y2: y(v), stroke: '#555'}, g);
    
    
    const lab = make('text', {x: L.box[0] - 5, y: y(v), 'font-size': L.tickSize, fill: '#555', 'text-anchor': 'end'}, g, t);
    
    
  });
  groupNames.forEach((name, i) => {
    const cx = L.cx[i];
    const nr = make('rect', {x: cx - bw / 2, y: y(nonResponse[i]), width: bw, height: y(0) - y(nonResponse[i]), fill: '#ff0000'}, g);
    
    
    const rs = make('rect', {x: cx - bw / 2, y: y(100), width: bw, height: y(nonResponse[i]) - y(100), fill: '#0066ff'}, g);
    
    
    const a = make('text', {x: cx, y: y(nonResponse[i] + response[i] / 2), 'font-size': L.valSize, fill: '#222', 'text-anchor': 'middle'}, g, response[i] + '%');
    
    
    const b = make('text', {x: cx, y: y(nonResponse[i] / 2), 'font-size': L.valSize, fill: '#222', 'text-anchor': 'middle'}, g, nonResponse[i] + '%');
    
    
    const tk = make('line', {x1: cx, x2: cx, y1: L.box[3], y2: L.box[3] + 3, stroke: '#555'}, g);
    
    
    const lb = make('text', {x: cx, y: L.box[3] + 11.5, 'font-size': L.tickSize + .5, fill: '#555', 'text-anchor': 'middle'}, g, name);
    
    
  });
  const fr = make('rect', {x: L.box[0], y: L.box[2], width: L.box[1] - L.box[0], height: L.box[3] - L.box[2], fill: 'none', stroke: '#777', 'stroke-width': 1.1}, g);
  
  
  [['Response', '#0066ff', L.leg[0]], ['Non−response', '#ff0000', L.leg[1]]].forEach(e => {
    const sw = make('rect', {x: L.legX, y: e[2] - L.legH / 2, width: L.legW, height: L.legH, fill: e[1], stroke: '#555', 'stroke-width': .4}, g);
    
    
    const tx = make('text', {x: L.legT, y: e[2], 'font-size': 12.3, fill: '#222'}, g, e[0]);
    
    
  });
}
drawBars(byId('panel-h-bar'), {y0:1600.7,y100:1265,box:[473,623,1248,1617.5],barW:48,cx:[514.5,583],tickSize:11,valSize:11,legX:647,legW:22,legH:26,legT:676.6,leg:[1462,1490.7]}, hResponse, hNonResponse);
drawBars(byId('panel-i-bar'), {y0:1604.3,y100:1289.7,box:[1214.3,1380.4,1274,1620],barW:53.5,cx:[1259,1335.5],tickSize:11.7,valSize:12.5,legX:1404.5,legW:21,legH:22.5,legT:1434,leg:[1446,1470]}, iResponse, iNonResponse);

/* ---------- Violins ---------- */
function violinPoints(cx, grid, density, y, w) {
  const right = grid.map((v, i) => [cx + density[i] * w, y(v)]);
  const left = grid.map((v, i) => [cx - density[i] * w, y(v)]).reverse();
  return right.concat(left.slice(1));
}
function drawBox(g, cx, half, box, y, whiskerColor) {
  const wh = make('line', {x1: cx, x2: cx, y1: y(box[4]), y2: y(box[0]), stroke: whiskerColor, 'stroke-width': 1.2}, g);
  
  
  const bx = make('rect', {x: cx - half, y: y(box[3]), width: half * 2, height: y(box[1]) - y(box[3]), fill: '#fff', stroke: '#333', 'stroke-width': 1}, g);
  
  
  const md = make('line', {x1: cx - half, x2: cx + half, y1: y(box[2]), y2: y(box[2]), stroke: '#222', 'stroke-width': 1.8}, g);
  
  
}
(function drawJ() {
  const g = byId('panel-j');
  const y = linear(0, .25, 1815.7, 1749.6);
  const cx = [198, 364.8];
  const ax = make('path', {d: 'M98 1687.7V1962H464.3', fill: 'none', stroke: '#333', 'stroke-width': 1.3}, g);
  
  
  jTicks.forEach((t, i) => {
    const tk = make('line', {x1: 95, x2: 98, y1: y(jTickValues[i]), y2: y(jTickValues[i]), stroke: '#333'}, g);
    
    
    const lb = make('text', {x: 92.5, y: y(jTickValues[i]), 'font-size': 11.6, fill: '#333', 'text-anchor': 'end'}, g, t);
    
    
  });
  groupNames.forEach((n, i) => {
    const tk = make('line', {x1: cx[i], x2: cx[i], y1: 1962, y2: 1965, stroke: '#333'}, g);
    
    
    const lb = make('text', {x: cx[i], y: 1971.7, 'font-size': 11.5, fill: '#333', 'text-anchor': 'middle'}, g, n);
    
    
  });
  const v1 = make('path', {d: smoothPath(violinPoints(cx[0], jLowGrid, jLowDensity, y, 83.6), true), fill: '#0066ff', stroke: '#222', 'stroke-width': 1}, g);
  
  
  const v2 = make('path', {d: smoothPath(violinPoints(cx[1], jHighGrid, jHighDensity, y, 83.6), true), fill: '#ff0000', stroke: '#222', 'stroke-width': 1}, g);
  
  
  drawBox(g, cx[0], 16.6, jLowBox, y, '#222');
  drawBox(g, cx[1], 16.3, jHighBox, y, '#222');
  jOutliers.forEach(v => {
    const o = make('circle', {cx: cx[0], cy: y(v), r: 1.8, fill: '#111'}, g);
    
    
  });
  const br = make('path', {d: 'M198 1725V1721.3H364.8V1727', fill: 'none', stroke: '#888', 'stroke-width': 1}, g);
  
  
})();

/* ---------- Panel K ---------- */
(function drawK() {
  const g = byId('panel-k');
  const x = linear(0, 1, 636.7, 882), y = linear(0, .2, 1811, 1739.6);
  kXTicks.forEach(t => {
    const v = parseFloat(t);
    const gl = make('line', {x1: x(v), x2: x(v), y1: 1684.3, y2: 1962, stroke: '#f0f0f0'}, g);
    
    
    const lb = make('text', {x: x(v), y: 1971, 'font-size': 9, fill: '#555', 'text-anchor': 'middle'}, g, t);
    
    
  });
  kYTicks.forEach((t, i) => {
    const gl = make('line', {x1: 625.4, x2: 894, y1: y(kYTickValues[i]), y2: y(kYTickValues[i]), stroke: '#f0f0f0'}, g);
    
    
    const lb = make('text', {x: 621, y: y(kYTickValues[i]), 'font-size': 9, fill: '#555', 'text-anchor': 'end'}, g, t);
    
    
  });
  const up = kFitX.map((v, i) => [x(v), y(kFitUpper[i])]);
  const dn = kFitX.map((v, i) => [x(v), y(kFitLower[i])]).reverse();
  const rb = make('path', {d: smoothPath(up) + 'L' + smoothPath(dn).slice(1) + 'Z', fill: '#999', 'fill-opacity': .45}, g);
  
  
  kPoints.forEach(p => {
    const dot = make('circle', {cx: x(p[0]), cy: y(p[1]), r: 2.4, fill: '#111'}, g);
    
    
  });
  const fit = make('path', {d: smoothPath(kFitX.map((v, i) => [x(v), y(kFitLine[i])])), fill: 'none', stroke: '#3a66d8', 'stroke-width': 2}, g);
  
  
  const fr = make('rect', {x: 625.4, y: 1684.3, width: 268.6, height: 277.7, fill: 'none', stroke: '#888', 'stroke-width': 1}, g);
  
  
  const base = 1682, tall = 51;
  const top = kTopGrid.map((v, i) => [x(v), base - kTopDensity[i] * tall]);
  const td = make('path', {d: 'M' + x(0) + ' ' + base + 'L' + smoothPath(top).slice(1) + 'L' + x(1) + ' ' + base + 'Z', fill: '#ffa500'}, g);
  
  
  const tl = make('path', {d: smoothPath(top), fill: 'none', stroke: '#3a3020', 'stroke-width': 1}, g);
  
  
  const rx = 897;
  const right = kRightGrid.map((v, i) => [rx + kRightDensity[i] * 49, y(v)]);
  const last = kRightGrid[kRightGrid.length - 1];
  const rd = make('path', {d: 'M' + rx + ' ' + y(kRightGrid[0]) + 'L' + smoothPath(right).slice(1) + 'L' + rx + ' ' + y(last) + 'Z', fill: '#0000ff', stroke: '#111', 'stroke-width': .4}, g);
  
  
})();

/* ---------- Panel L ---------- */
(function drawL() {
  const g = byId('panel-l');
  const y = linear(0, .4, 1917, 1849.3);
  const cx = [1183.6, 1348.5];
  const ax = make('path', {d: 'M1086 1705V1962H1445', fill: 'none', stroke: '#333', 'stroke-width': 1.3}, g);
  
  
  lTicks.forEach((t, i) => {
    const lb = make('text', {x: 1081, y: y(lTickValues[i]), 'font-size': 10, fill: '#333', 'text-anchor': 'end'}, g, t);
    
    
    const tk = make('line', {x1: 1083, x2: 1086, y1: y(lTickValues[i]), y2: y(lTickValues[i]), stroke: '#333'}, g);
    
    
  });
  lTypes.forEach((n, i) => {
    const tk = make('line', {x1: cx[i], x2: cx[i], y1: 1962, y2: 1965, stroke: '#333'}, g);
    
    
    const lb = make('text', {x: cx[i], y: 1971.7, 'font-size': 11, fill: '#333', 'text-anchor': 'middle'}, g, n);
    
    
  });
  const v1 = make('path', {d: smoothPath(violinPoints(cx[0], lResistantGrid, lResistantDensity, y, 81.8), true), fill: '#f8766d', stroke: '#333', 'stroke-width': 1}, g);
  
  
  const v2 = make('path', {d: smoothPath(violinPoints(cx[1], lTreatmentGrid, lTreatmentDensity, y, 81.8), true), fill: '#00bfc4', stroke: '#333', 'stroke-width': 1}, g);
  
  
  drawBox(g, cx[0], 17, lResistantBox, y, '#222');
  drawBox(g, cx[1], 16.5, lTreatmentBox, y, '#222');
  lOutliers.forEach(v => {
    const o = make('circle', {cx: cx[0], cy: y(v), r: 2.1, fill: '#111'}, g);
    
    
  });
  const br = make('path', {d: 'M1183.6 1739H1348.5', fill: 'none', stroke: '#aaa', 'stroke-width': 1.6}, g);
  
  
})();
</script>
</body>
</html>
